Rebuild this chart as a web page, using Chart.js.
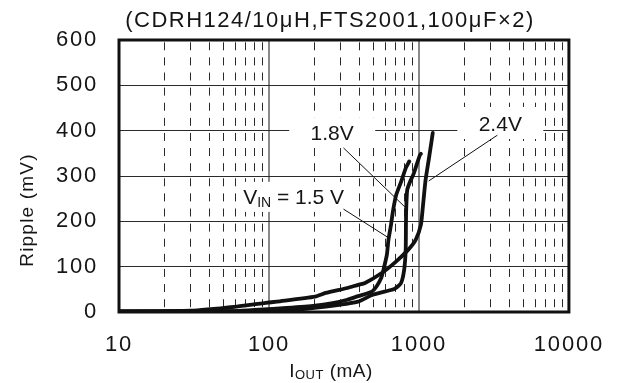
<!DOCTYPE html>
<html><head><meta charset="utf-8">
<script src="https://cdn.jsdelivr.net/npm/chart.js@4.4.0/dist/chart.umd.min.js"></script>
<style>html,body{margin:0;padding:0;background:#fff;}#wrap{width:624px;height:383px;}</style>
</head><body><div id="wrap"><canvas id="c" width="624" height="383"></canvas></div>
<script>
// ---- data ----
const titleText = '(CDRH124/10\u03bcH,FTS2001,100\u03bcF\u00d72)';
const yAxisTitle = 'Ripple (mV)';
const xAxisTitleParts = [{t:'I'},{t:'OUT',sub:true},{t:' (mA)'}];
const xTickLabels = ['10','100','1000','10000'];
const xMinorMultipliers = [1,2,3,4,5,6,7,8,9];
const yTickValues = [0,100,200,300,400,500,600];

const iout15   = [10, 60, 86, 131, 203, 260, 333, 393, 485, 525, 562, 577, 611, 626, 651, 673, 705, 760, 818, 861];
const ripple15 = [1,  2,  5,  9,   14,  19,  27,  35,  45,  58,  76,  90,  126, 159, 192, 225, 258, 287, 318, 332];

const iout18   = [10, 72, 146, 239, 393, 483, 590, 687, 760, 797, 816, 819, 822, 835, 867, 927, 1014, 1030];
const ripple18 = [1,  2,  5,   12,  23,  37,  45,  51,  64,  93,  137, 190, 225, 269, 285, 307, 346,  349];

const iout24   = [10, 30, 61, 95, 113, 203, 239, 333, 393, 437, 565, 697, 847, 951, 1030, 1062, 1107, 1161, 1216, 1236];
const ripple24 = [2,  3,  12, 20, 23,  34,  42,  53,  60,  64,  86,  110, 137, 159, 192,  232,  291,  335,  379,  395];

// callouts: text segments, label centre (data coords), pointer line from/to (data coords)
const calloutText = [
  [{t:'1.8V'}],
  [{t:'2.4V'}],
  [{t:'V'},{t:'IN',sub:true},{t:' = 1.5 V'}]
];
const calloutX = [264, 3487, 146];
const calloutY = [395, 417, 254];
const pointerFromX = [314, 3334, 314];
const pointerFromY = [362, 390, 227];
const pointerToX = [822, 1161, 618];
const pointerToY = [229, 289, 165];

// ---- build ----
const FONT = '"Liberation Sans", Arial, Helvetica, sans-serif';
const xGridValues = [];
for (let d = 10; d < 10000; d *= 10) xMinorMultipliers.forEach(m => xGridValues.push(m * d));
xGridValues.push(10000);
const isDecade = v => Math.abs(Math.log10(v) - Math.round(Math.log10(v))) < 1e-9;

const toPts = (xs, ys) => xs.map((v, i) => ({x: v, y: ys[i]}));

const boxSizes = [[86, 30], [86, 32], [112, 30]];

function richWidth(ctx, parts, size, subSize) {
  let w = 0;
  parts.forEach(p => { ctx.font = (p.sub ? subSize : size) + 'px ' + FONT; w += ctx.measureText(p.t).width; });
  return w;
}
function drawRich(ctx, parts, cx, cy, size, subSize, subDrop) {
  const w = richWidth(ctx, parts, size, subSize);
  let x = cx - w / 2;
  ctx.textAlign = 'left';
  ctx.textBaseline = 'alphabetic';
  parts.forEach(p => {
    ctx.font = (p.sub ? subSize : size) + 'px ' + FONT;
    ctx.fillText(p.t, x, cy + size * 0.36 + (p.sub ? subDrop : 0));
    x += ctx.measureText(p.t).width;
  });
}

const decor = {
  id: 'decor',
  beforeUpdate(chart) { chart.ctx.letterSpacing = '1.8px'; },
  beforeDraw(chart) { chart.ctx.letterSpacing = '1.8px'; },
  afterDatasetsDraw(chart) {
    const {ctx, chartArea: a} = chart;
    ctx.save();
    ctx.strokeStyle = '#111';
    ctx.lineWidth = 3;
    ctx.strokeRect(a.left, a.top, a.right - a.left, a.bottom - a.top);
    ctx.restore();
  },
  afterDraw(chart) {
    const {ctx, chartArea: a, scales: {x, y}} = chart;
    ctx.save();
    ctx.fillStyle = '#151515';
    // title
    ctx.letterSpacing = '1.5px';
    ctx.font = '22px ' + FONT;
    ctx.textAlign = 'center';
    ctx.textBaseline = 'middle';
    ctx.fillText(titleText, 330, 21);
    // y axis title
    ctx.save();
    ctx.translate(28, 210);
    ctx.rotate(-Math.PI / 2);
    ctx.letterSpacing = '1.2px';
    ctx.font = '19px ' + FONT;
    ctx.fillText(yAxisTitle, 0, 0);
    ctx.restore();
    // x axis title
    ctx.letterSpacing = '0.5px';
    drawRich(ctx, xAxisTitleParts, 331, 370, 19, 13, 2);
    // callouts
    ctx.letterSpacing = '0px';
    calloutText.forEach((parts, i) => {
      const cx = x.getPixelForValue(calloutX[i]);
      const cy = y.getPixelForValue(calloutY[i]);
      const [bw, bh] = boxSizes[i];
      ctx.fillStyle = '#fff';
      ctx.fillRect(cx - bw / 2, cy - bh / 2, bw, bh);
    });
    ctx.strokeStyle = '#111';
    ctx.lineWidth = 1;
    calloutText.forEach((parts, i) => {
      ctx.beginPath();
      ctx.moveTo(x.getPixelForValue(pointerFromX[i]), y.getPixelForValue(pointerFromY[i]));
      ctx.lineTo(x.getPixelForValue(pointerToX[i]), y.getPixelForValue(pointerToY[i]));
      ctx.stroke();
    });
    ctx.fillStyle = '#151515';
    calloutText.forEach((parts, i) => {
      drawRich(ctx, parts, x.getPixelForValue(calloutX[i]), y.getPixelForValue(calloutY[i]), 21, 14, 3);
    });
    ctx.restore();
  }
};

const lineStyle = {borderColor: '#111', borderWidth: 3.8, pointRadius: 0, fill: false, tension: 0.2, borderCapStyle: 'round', borderJoinStyle: 'round'};

new Chart(document.getElementById('c'), {
  type: 'line',
  data: {
    datasets: [
      Object.assign({label: '1.5 V', data: toPts(iout15, ripple15)}, lineStyle),
      Object.assign({label: '1.8 V', data: toPts(iout18, ripple18)}, lineStyle),
      Object.assign({label: '2.4 V', data: toPts(iout24, ripple24)}, lineStyle)
    ]
  },
  options: {
    responsive: false,
    animation: false,
    devicePixelRatio: 1,
    layout: {padding: {top: 40, right: 45, bottom: 0, left: 0}},
    plugins: {legend: {display: false}, title: {display: false}, tooltip: {enabled: false}},
    scales: {
      x: {
        type: 'logarithmic', min: 10, max: 10000,
        afterFit: s => { s.height = 71; },
        afterBuildTicks: s => { s.ticks = xGridValues.map(v => ({value: v, major: isDecade(v)})); },
        ticks: {
          autoSkip: false, maxRotation: 0, minRotation: 0, padding: 20, color: '#151515',
          font: {family: FONT, size: 22},
          callback: v => { const l = xTickLabels.find(s => Number(s) === v); return l === undefined ? '' : l; }
        },
        grid: {
          drawTicks: false,
          color: c => (c.tick && isDecade(c.tick.value)) ? '#8a8a8a' : '#2a2a2a',
          lineWidth: c => (c.tick && isDecade(c.tick.value)) ? 2 : 1
        },
        border: {
          display: false,
          dash: c => (c.tick && isDecade(c.tick.value)) ? [] : [8, 7.11],
          dashOffset: 12.8
        }
      },
      y: {
        min: 0, max: 600,
        afterFit: s => { s.width = 119; },
        afterBuildTicks: s => { s.ticks = yTickValues.map(v => ({value: v})); },
        ticks: {padding: 21, color: '#151515', font: {family: FONT, size: 22}},
        grid: {drawTicks: false, color: '#2a2a2a', lineWidth: 1},
        border: {display: false}
      }
    }
  },
  plugins: [decor]
});
</script>
</body></html>
